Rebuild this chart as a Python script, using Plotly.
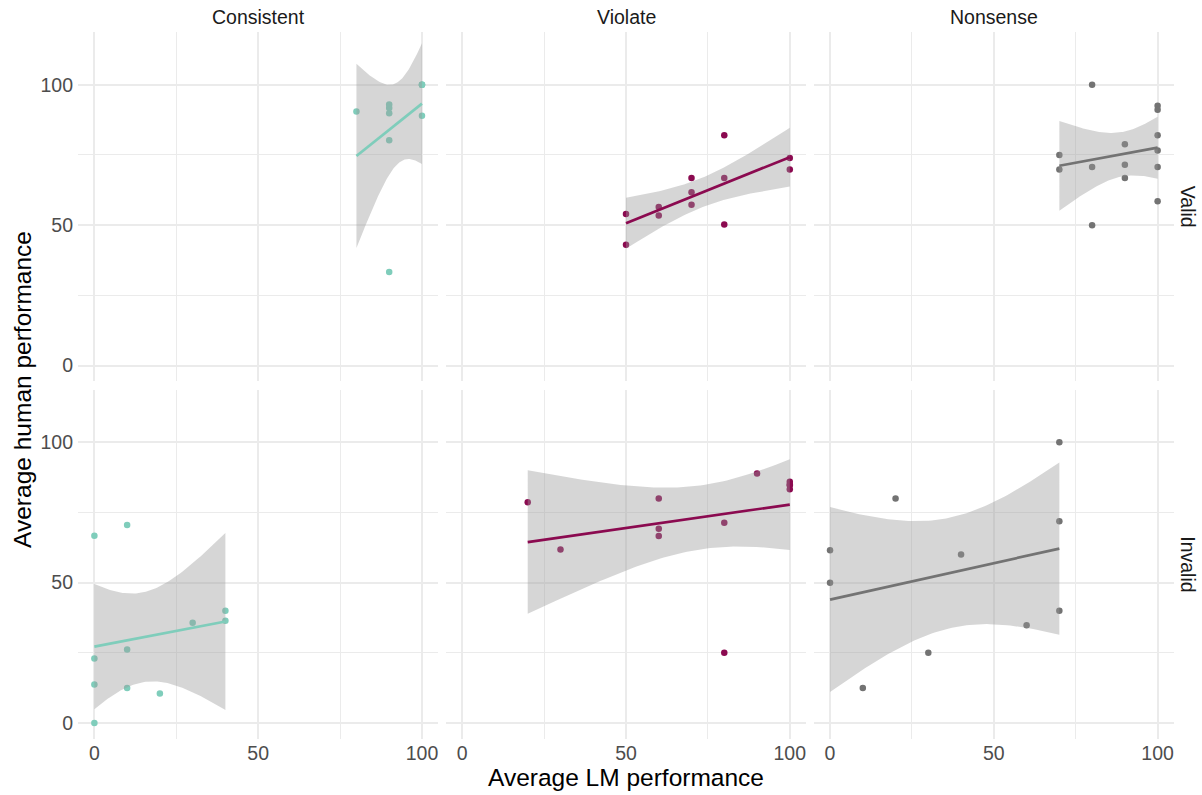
import numpy as np
import plotly.graph_objects as go
from plotly.subplots import make_subplots

# facets
CONDITIONS = ["Consistent", "Violate", "Nonsense"]
VALIDITY = ["Valid", "Invalid"]

# average LM performance (x) and average human performance (y), one pair per panel
consistent_valid_lm = [80, 90, 90, 90, 90, 90, 100, 100, 100, 100]
consistent_valid_human = [90.5, 93, 91.7, 89.9, 80.2, 33.3, 100, 100, 100, 89]

violate_valid_lm = [50, 50, 60, 60, 70, 70, 70, 80, 80, 80, 100, 100]
violate_valid_human = [54, 43, 56.5, 53.4, 66.8, 61.7, 57.3, 82, 66.8, 50.2, 73.9, 69.8]

nonsense_valid_lm = [70, 70, 80, 80, 80, 90, 90, 90, 100, 100, 100, 100, 100, 100]
nonsense_valid_human = [75, 69.8, 100, 70.7, 50, 78.8, 71.5, 66.8, 92.5, 91.1, 82, 76.6, 70.7, 58.5]

consistent_invalid_lm = [0, 0, 0, 0, 10, 10, 10, 20, 30, 40, 40]
consistent_invalid_human = [66.7, 23, 13.7, 0, 70.5, 26.2, 12.5, 10.5, 35.7, 40, 36.4]

violate_invalid_lm = [20, 30, 60, 60, 60, 80, 80, 90, 100, 100, 100, 100]
violate_invalid_human = [78.6, 61.8, 80, 69.2, 66.6, 71.3, 25, 88.9, 85.9, 84.7, 83.3, 85]

nonsense_invalid_lm = [0, 0, 10, 20, 30, 40, 60, 70, 70, 70]
nonsense_invalid_human = [61.5, 50, 12.5, 80, 25, 60, 34.8, 100, 71.9, 40]

PANELS = {
    ("Consistent", "Valid"): (consistent_valid_lm, consistent_valid_human),
    ("Violate", "Valid"): (violate_valid_lm, violate_valid_human),
    ("Nonsense", "Valid"): (nonsense_valid_lm, nonsense_valid_human),
    ("Consistent", "Invalid"): (consistent_invalid_lm, consistent_invalid_human),
    ("Violate", "Invalid"): (violate_invalid_lm, violate_invalid_human),
    ("Nonsense", "Invalid"): (nonsense_invalid_lm, nonsense_invalid_human),
}

COLORS = {"Consistent": "#7fcdbb", "Violate": "#8b0a50", "Nonsense": "#737373"}
RIBBON = "rgba(153,153,153,0.4)"
GRID = "#ebebeb"
FONT = "Liberation Sans, Arial, sans-serif"

X_RANGE = [-5, 105]
Y_RANGE = [-5.7, 118.8]

# two-sided 95% t quantiles
T_975 = {6: 2.447, 7: 2.365, 8: 2.306, 9: 2.262, 10: 2.228, 11: 2.201, 12: 2.179, 13: 2.160, 14: 2.145}

W, H = 1202, 795
L, R, T, B = 77.6, 28, 32.2, 56.4


def fit_band(x, y):
    x = np.asarray(x, float)
    y = np.asarray(y, float)
    n = len(x)
    slope, intercept = np.polyfit(x, y, 1)
    resid = y - (intercept + slope * x)
    s = np.sqrt((resid ** 2).sum() / (n - 2))
    xbar = x.mean()
    sxx = ((x - xbar) ** 2).sum()
    grid = np.linspace(x.min(), x.max(), 80)
    fit = intercept + slope * grid
    se = s * np.sqrt(1 / n + (grid - xbar) ** 2 / sxx)
    t = T_975[n - 2]
    return grid, fit, fit - t * se, fit + t * se


fig = make_subplots(
    rows=2,
    cols=3,
    shared_xaxes=True,
    shared_yaxes=True,
    horizontal_spacing=7.5 / (W - L - R),
    vertical_spacing=8 / (H - T - B),
)

for (cond, valid), (lm, human) in PANELS.items():
    row = VALIDITY.index(valid) + 1
    col = CONDITIONS.index(cond) + 1
    color = COLORS[cond]
    grid, fit, lower, upper = fit_band(lm, human)

    fig.add_trace(
        go.Scatter(x=lm, y=human, mode="markers",
                   marker=dict(size=6.5, color=color, line=dict(width=0))),
        row=row, col=col,
    )
    fig.add_trace(
        go.Scatter(x=np.concatenate([grid, grid[::-1]]),
                   y=np.concatenate([upper, lower[::-1]]),
                   mode="lines", fill="toself", fillcolor=RIBBON,
                   line=dict(width=0), hoverinfo="skip"),
        row=row, col=col,
    )
    fig.add_trace(
        go.Scatter(x=grid, y=fit, mode="lines", line=dict(color=color, width=2.7)),
        row=row, col=col,
    )

fig.update_xaxes(
    range=X_RANGE,
    tick0=0, dtick=50,
    showgrid=True, gridcolor=GRID, gridwidth=1.5,
    minor=dict(dtick=25, showgrid=True, gridcolor=GRID, gridwidth=1.0),
    zeroline=False, showline=False, ticks="",
    tickfont=dict(family=FONT, size=19.5, color="#4d4d4d"),
)
fig.update_yaxes(
    range=Y_RANGE,
    tick0=0, dtick=50,
    showgrid=True, gridcolor=GRID, gridwidth=1.5,
    minor=dict(dtick=25, showgrid=True, gridcolor=GRID, gridwidth=1.0),
    zeroline=False, showline=False, ticks="",
    ticklabelstandoff=4,
    tickfont=dict(family=FONT, size=19.5, color="#4d4d4d"),
)

annotations = []
for i, cond in enumerate(CONDITIONS):
    xa = fig.layout["xaxis" if i == 0 else f"xaxis{i + 1}"].domain
    annotations.append(dict(
        text=cond, x=(xa[0] + xa[1]) / 2, y=1, xref="paper", yref="paper",
        xanchor="center", yanchor="middle", yshift=15.2, showarrow=False,
        font=dict(family=FONT, size=19.5, color="#1a1a1a"),
    ))
for j, valid in enumerate(VALIDITY):
    ya = fig.layout["yaxis" if j == 0 else f"yaxis{3 * j + 1}"].domain
    annotations.append(dict(
        text=valid, x=1, y=(ya[0] + ya[1]) / 2, xref="paper", yref="paper",
        xanchor="center", yanchor="middle", xshift=14, textangle=90, showarrow=False,
        font=dict(family=FONT, size=19.5, color="#1a1a1a"),
    ))
annotations.append(dict(
    text="Average LM performance", x=0.5, y=0, xref="paper", yref="paper",
    xanchor="center", yanchor="middle", yshift=-38.5, showarrow=False,
    font=dict(family=FONT, size=24.5, color="black"),
))
annotations.append(dict(
    text="Average human performance", x=0, y=0.5, xref="paper", yref="paper",
    xanchor="center", yanchor="middle", xshift=-55.6, yshift=-4, textangle=-90,
    showarrow=False,
    font=dict(family=FONT, size=24.5, color="black"),
))

fig.update_layout(
    width=W,
    height=H,
    showlegend=False,
    plot_bgcolor="white",
    paper_bgcolor="white",
    margin=dict(l=L, r=R, t=T, b=B, pad=0),
    annotations=annotations,
)

# drop the browser's default body margin so the figure fills the window
fig.write_html(
    "out.html",
    config={"displayModeBar": False},
    post_script="document.body.style.margin = '0';",
)
